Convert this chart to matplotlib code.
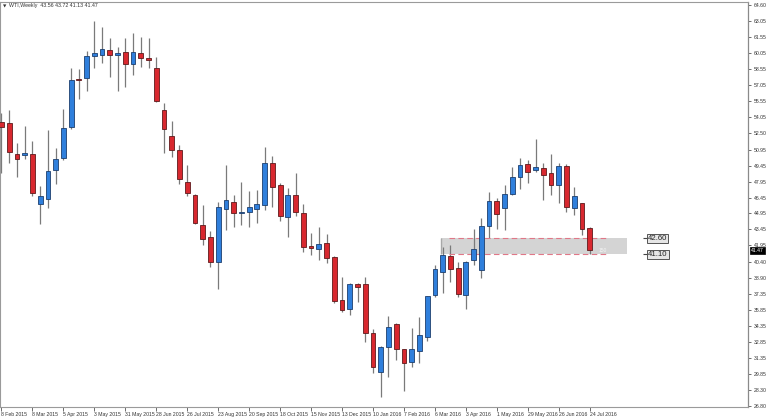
import numpy as np
import matplotlib
matplotlib.use('Agg')
import matplotlib.pyplot as plt
from matplotlib.patches import Rectangle

plt.rcParams['font.family'] = ['Liberation Sans', 'DejaVu Sans']

# weekly WTI candles, 8 Feb 2015 .. 24 Jul 2016
opens = [53.61, 53.51, 50.53, 50.43, 50.56, 45.88, 46.32, 49.08, 50.15, 53.14,
         57.63, 57.69, 59.77, 59.86, 60.36, 59.86, 60.17, 59.01, 60.05, 59.58,
         58.70, 54.74, 52.23, 50.91, 47.89, 46.70, 43.84, 42.71, 40.35, 45.34,
         46.00, 45.03, 45.12, 45.34, 45.75, 49.74, 47.64, 44.65, 46.69, 44.97,
         41.92, 41.57, 42.14, 40.88, 36.79, 35.92, 38.31, 38.31, 33.66, 30.04,
         32.40, 34.50, 32.15, 30.99, 32.02, 33.34, 37.27, 39.47, 40.98, 39.84,
         37.27, 40.57, 39.63, 43.77, 46.13, 45.44, 46.76, 48.42, 49.65, 49.05,
         49.21, 48.80, 47.64, 49.40, 45.44, 45.94, 43.56]
highs = [54.39, 54.71, 51.63, 53.20, 51.79, 47.54, 52.82, 51.13, 54.77, 58.63,
         58.57, 60.27, 63.06, 62.50, 61.52, 60.61, 61.46, 61.93, 61.62, 61.46,
         59.67, 55.37, 53.70, 51.38, 49.49, 46.75, 45.75, 43.27, 46.07, 49.52,
         46.66, 47.89, 47.10, 47.17, 51.19, 50.37, 47.86, 47.32, 48.74, 45.85,
         43.08, 43.65, 42.99, 40.94, 38.93, 38.43, 38.35, 38.93, 34.03, 32.46,
         35.29, 34.66, 32.20, 34.19, 35.16, 37.17, 40.10, 41.82, 41.98, 40.41,
         40.50, 43.46, 44.49, 46.98, 46.38, 47.64, 49.36, 50.15, 49.99, 51.97,
         49.68, 50.56, 49.68, 49.62, 47.42, 45.94, 43.72]
lows = [48.74, 49.74, 48.42, 50.06, 46.60, 43.96, 45.50, 47.76, 50.00, 52.89,
        55.74, 56.53, 58.70, 59.17, 57.79, 56.47, 56.84, 57.97, 58.79, 58.63,
        55.43, 50.69, 50.31, 47.70, 46.63, 43.96, 41.95, 39.88, 37.80, 43.39,
        43.71, 43.87, 43.71, 44.09, 45.28, 45.59, 44.27, 42.77, 44.71, 41.35,
        41.04, 40.57, 40.32, 36.55, 35.70, 35.38, 36.64, 32.87, 29.95, 27.69,
        29.57, 31.14, 28.25, 30.45, 30.89, 32.96, 37.10, 37.43, 38.53, 37.10,
        35.95, 40.10, 38.90, 42.61, 43.46, 43.39, 46.70, 47.29, 47.79, 48.89,
        46.22, 46.69, 45.97, 45.12, 44.81, 42.96, 41.13]
closes = [53.14, 50.78, 50.06, 50.65, 46.85, 46.57, 48.96, 50.09, 53.01, 57.53,
          57.50, 59.77, 60.05, 60.49, 59.86, 60.05, 59.01, 60.14, 59.64, 59.45,
          55.56, 52.92, 50.97, 48.17, 46.92, 44.03, 42.52, 40.35, 45.53, 46.19,
          45.03, 45.12, 45.53, 45.81, 49.74, 47.48, 44.71, 46.66, 45.12, 41.76,
          41.67, 42.08, 40.79, 36.73, 35.86, 38.31, 37.99, 33.66, 30.45, 32.40,
          34.28, 32.15, 30.89, 32.15, 33.50, 37.17, 39.72, 41.04, 39.72, 37.33,
          40.35, 41.57, 43.77, 46.16, 44.87, 46.79, 48.42, 49.49, 48.89, 49.33,
          48.61, 47.64, 49.43, 45.59, 46.57, 43.46, 41.47]

date_labels = ['8 Feb 2015', '8 Mar 2015', '5 Apr 2015', '3 May 2015', '31 May 2015',
               '28 Jun 2015', '26 Jul 2015', '23 Aug 2015', '20 Sep 2015', '18 Oct 2015',
               '15 Nov 2015', '13 Dec 2015', '10 Jan 2016', '7 Feb 2016', '6 Mar 2016',
               '3 Apr 2016', '1 May 2016', '29 May 2016', '26 Jun 2016', '24 Jul 2016']
price_ticks = [64.60, 63.05, 61.55, 60.05, 58.55, 57.05, 55.55, 54.05, 52.50, 50.95,
               49.45, 47.95, 46.45, 44.95, 43.45, 41.95, 40.40, 38.90, 37.35, 35.85,
               34.35, 32.85, 31.35, 29.85, 28.30, 26.80]
zone_top, zone_bot = 42.60, 41.10
zone_pips = '150'

o = np.array(opens); h = np.array(highs); l = np.array(lows); c = np.array(closes)
idx = np.arange(len(o))
up = c >= o

fig = plt.figure(figsize=(7.68, 4.18), dpi=100)
ax = fig.add_axes([0.0, 11 / 418, 748 / 768, 405 / 418])
ax.set_xlim(-0.19, 96.45)
ax.set_ylim(26.71, 64.88)

# wicks
ax.vlines(idx, l, h, color='#7a7a7a', lw=0.9, zorder=2)
# bodies
body_lo = np.minimum(o, c)
body_h = np.maximum(np.abs(c - o), 0.07)
face = np.where(up, '#2f7fdc', '#d8282f')
edge = np.where(up, '#1d3f6e', '#5e1a1c')
ax.bar(idx, body_h, bottom=body_lo, width=0.62, color=face, edgecolor=edge,
       linewidth=0.6, zorder=3)

# support zone
ax.add_patch(Rectangle((56.8, zone_bot), 24.0, zone_top - zone_bot, facecolor='#d4d4d4',
                       edgecolor='none', zorder=1))
ax.vlines(56.85, zone_bot, zone_top, color='#a8a8a8', lw=1.0, zorder=1)
ax.hlines([zone_top, zone_bot], 57.8, 78.5, colors='#e07888', linestyles=(0, (5, 3)),
          lw=0.8, zorder=2)
ax.text(77.2, zone_bot + 0.35, zone_pips, fontsize=3.6, color='#f4f4f4', va='center', zorder=4)
for lvl in (zone_top, zone_bot):
    ax.hlines(lvl, 82.85, 83.5, colors='#444444', lw=0.8, zorder=4)
    ax.text(83.55, lvl, f'{lvl:.2f}', fontsize=5.6, color='#222222', va='center', ha='left',
            zorder=5, bbox=dict(boxstyle='square,pad=0.12', fc='#e6e6e6', ec='#555555', lw=0.7))

# axes styling
for s in ['left', 'top', 'bottom']:
    ax.spines[s].set_color('#9a9a9a')
    ax.spines[s].set_linewidth(0.8)
ax.spines['right'].set_color('#8a8a8a')
ax.spines['right'].set_linewidth(0.9)

ax.yaxis.tick_right()
ax.set_yticks(price_ticks)
ax.set_yticklabels([f'{v:.2f}' for v in price_ticks])
ax.tick_params(axis='y', direction='out', length=2.5, width=0.6, color='#555555',
               labelsize=3.7, labelcolor='#333333', pad=1.5)

ax.set_xticks(idx[::4])
ax.set_xticklabels(date_labels)
ax.tick_params(axis='x', direction='out', length=3, width=0.6, color='#555555',
               labelsize=3.7, labelcolor='#333333', pad=0.5)
for t in ax.get_xticklabels():
    t.set_ha('left')

# current price marker
ax.annotate(f'{c[-1]:.2f}', xy=(1.004, c[-1]), xycoords=('axes fraction', 'data'),
            fontsize=3.7, color='white', va='center', ha='left', annotation_clip=False,
            bbox=dict(boxstyle='square,pad=0.15', fc='black', ec='black', lw=0.5))

fig.text(3 / 768, 1 - 6 / 418, '\u25bc', fontsize=3.2, color='#333333', va='center',
         family=['DejaVu Sans'])
fig.text(9 / 768, 1 - 6 / 418,
         f'WTI,Weekly  {opens[-1]:.2f} {highs[-1]:.2f} {lows[-1]:.2f} {closes[-1]:.2f}',
         fontsize=3.8, color='#333333', va='center')

fig.savefig('out.png', dpi=100)
